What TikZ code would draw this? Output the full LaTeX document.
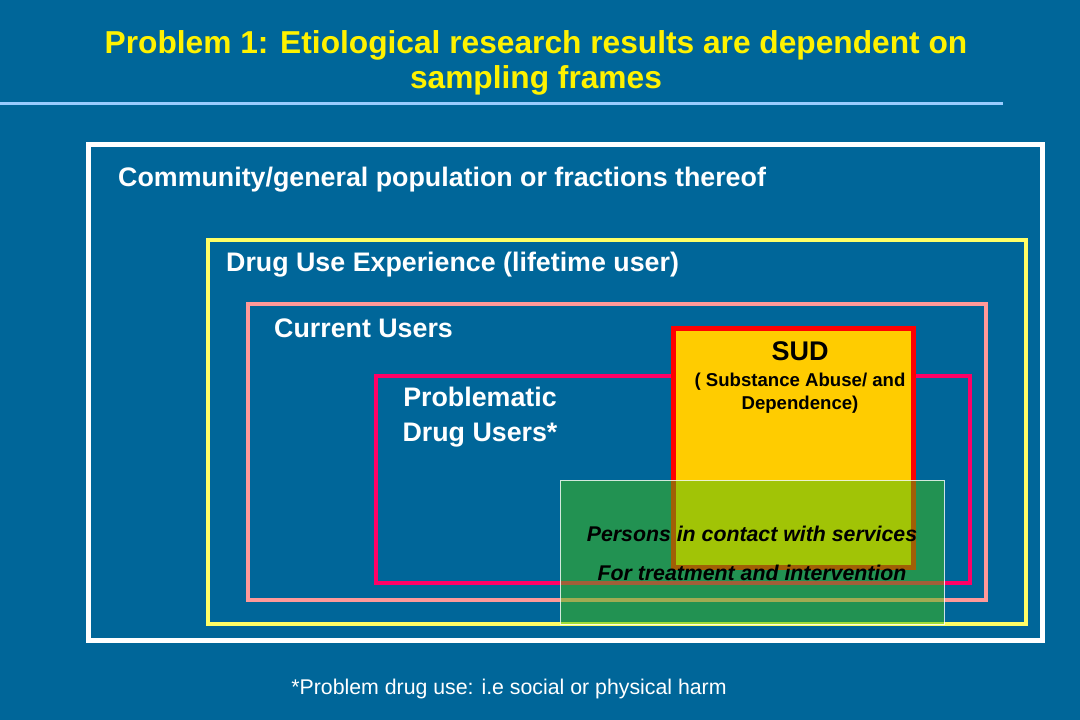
\documentclass[tikz,border=0pt]{standalone}
\usepackage{fontspec}
\setmainfont{Liberation Sans}
\definecolor{slideblue}{RGB}{0,102,153}
\definecolor{rulecolor}{RGB}{153,204,255}
\definecolor{lifeyellow}{RGB}{255,255,102}
\definecolor{currentpink}{RGB}{255,153,153}
\definecolor{problemred}{RGB}{255,0,102}
\definecolor{sudred}{RGB}{255,0,0}
\definecolor{sudfill}{RGB}{255,204,0}
\definecolor{servicegreen}{RGB}{68,190,12}
\tikzset{
  boxlabel/.style={text=white, font=\bfseries\fontsize{26.8}{35}\selectfont, inner sep=0pt, anchor=west},
  darklabel/.style={text=black, font=\bfseries\fontsize{18.6}{23}\selectfont, inner sep=0pt, align=center}
}
\begin{document}
\begin{tikzpicture}[x=1pt, y=-1pt]
        \useasboundingbox (0,0) rectangle (1080,720);
        % Background
        \fill[slideblue] (0,0) rectangle (1080,720);

        % Title and rule below it
        \node[text=yellow, font=\bfseries\fontsize{31.7}{35}\selectfont, align=center, inner sep=0pt] (title) at (536,63) {Problem 1: Etiological research results are dependent on\\sampling frames};
        \draw[rulecolor, line width=3pt] (0,103) -- (1003,103);

        % Nested sampling frames
        \draw[white, line width=5pt] (88,144) rectangle (1042,640);
        \draw[lifeyellow, line width=4pt] (208,240) rectangle (1026,624);
        \draw[currentpink, line width=4pt] (248,304) rectangle (986,600);
        \draw[problemred, line width=4pt] (376,376) rectangle (970,583);
        \draw[sudred, fill=sudfill, line width=5pt] (673,328) rectangle (913,567);

        % Labels of the frames
        \node[boxlabel] (community) at (118,180) {Community/general population or fractions thereof};
        \node[boxlabel] (lifetime) at (226,265) {Drug Use Experience (lifetime user)};
        \node[boxlabel] (current) at (274,328) {Current Users};
        \node[boxlabel, anchor=center, align=center] (problematic) at (480,417) {Problematic\\Drug Users*};

        % SUD box text
        \node[darklabel, font=\bfseries\fontsize{27}{30}\selectfont] (sud) at (800,351) {SUD};
        \node[darklabel] (sudtext) at (800,393) {( Substance Abuse/ and\\Dependence)};

        % Persons in contact with services (transparent overlay)
        \fill[servicegreen, opacity=0.5] (560,480) rectangle (944,624);
        \draw[white, line width=0.8pt, opacity=0.8] (560,480) rectangle (944,624);
        \node[darklabel, font=\bfseries\itshape\fontsize{21.3}{39}\selectfont] (services) at (752,553) {Persons in contact with services\\For treatment and intervention};

        % Footnote
        \node[text=white, font=\fontsize{21.3}{24}\selectfont, inner sep=0pt] (footnote) at (509,689) {*Problem drug use: i.e social or physical harm};
    \end{tikzpicture}
\end{document}
